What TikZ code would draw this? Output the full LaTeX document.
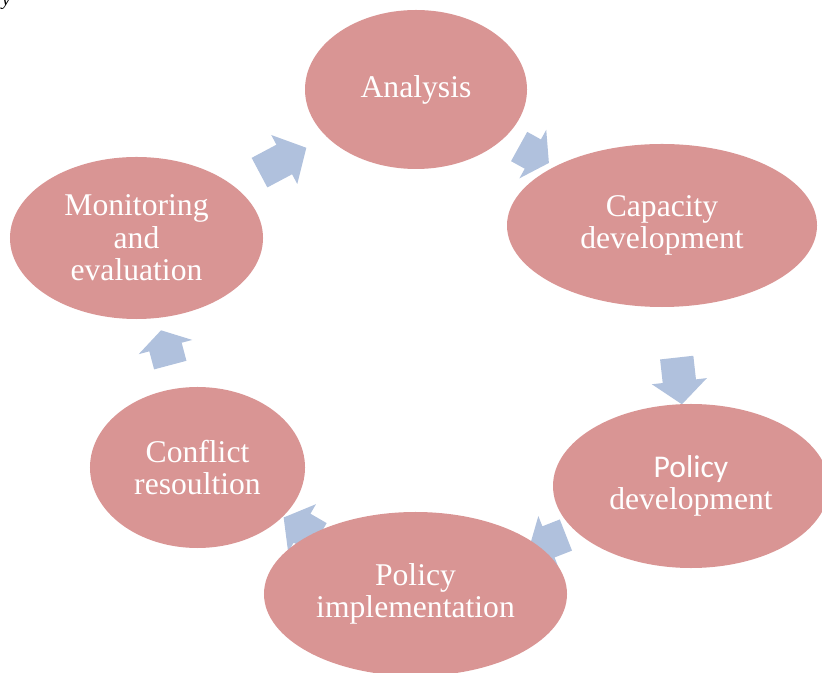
\documentclass[tikz,border=0pt]{standalone}
\usepackage{fontspec}
\setmainfont{Liberation Serif}
\newfontfamily\calibri{Carlito}
\usetikzlibrary{shapes.geometric,shapes.arrows,backgrounds}

\definecolor{stagefill}{RGB}{217,149,148}
\definecolor{arrowfill}{RGB}{176,193,221}

\begin{document}
\begin{tikzpicture}[x=0.03cm,y=0.03cm,
  stage/.style={ellipse,fill=stagefill,draw=none,text=white,inner sep=0pt,align=center,font=\fontsize{27}{27.7}\selectfont},
  cyc/.style={single arrow,fill=arrowfill,draw=none,inner xsep=0pt,inner ysep=0.495cm,single arrow head extend=0.33cm,sloped,allow upside down}]
\useasboundingbox (0,0) rectangle (822,672);
\node[anchor=base west,font=\itshape\fontsize{16}{16}\selectfont] (stray) at (-2,666) {y};
% the six stages
\node[stage,minimum width=6.66cm,minimum height=4.77cm] (ana) at (416,582.5) {Analysis};
\node[stage,minimum width=9.3cm,minimum height=4.89cm] (cap) at (662,446.5) {Capacity\\development};
\node[stage,minimum width=8.28cm,minimum height=4.92cm] (pold) at (691,186) {{\calibri Policy}\\development};
\node[stage,minimum width=9.09cm,minimum height=4.92cm] (poli) at (415.5,78) {Policy\\implementation};
\node[stage,minimum width=6.45cm,minimum height=4.83cm] (conf) at (197.5,204.5) {Conflict\\resoultion};
\node[stage,minimum width=7.59cm,minimum height=4.86cm] (mon) at (136.5,434) {Monitoring\\and\\evaluation};
% block arrows go under the stages
\begin{scope}[on background layer]
\path (ana.center) -- node[cyc,pos=0.46,minimum height=1.02cm,single arrow tip angle=113] (a1) {} (cap.center);
\path (cap.center) -- node[cyc,pos=0.57,minimum height=1.41cm,single arrow tip angle=100] (a2) {} (pold.center);
\path (pold.center) -- node[cyc,minimum height=1.2cm,single arrow tip angle=105] (a3) {} (poli.center);
\path (poli.center) -- node[cyc,minimum height=1.2cm,single arrow tip angle=105] (a4) {} (conf.center);
\path (conf.center) -- node[cyc,minimum height=1.08cm,single arrow tip angle=116] (a5) {} (mon.center);
\path (mon.center) -- node[cyc,minimum height=1.59cm,single arrow tip angle=96] (a6) {} (ana.center);
\end{scope}
\end{tikzpicture}
\end{document}
